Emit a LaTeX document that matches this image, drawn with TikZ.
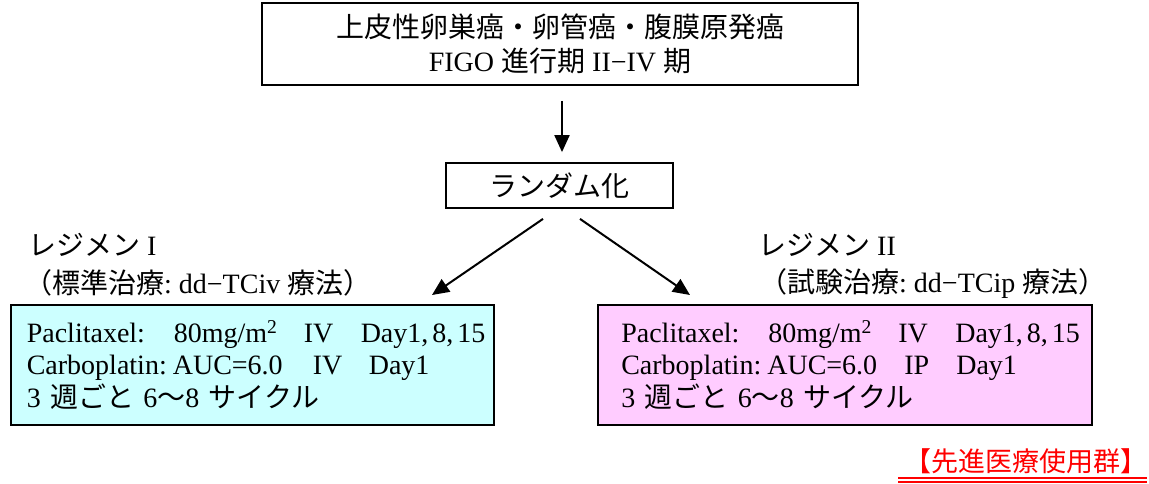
\documentclass[tikz,border=0pt]{standalone}
\usepackage{fontspec}
\setmainfont{Liberation Serif}
\newfontfamily\jp{Noto Sans CJK JP}
\usetikzlibrary{arrows.meta}
\definecolor{cyanfill}{HTML}{CCFFFF}
\definecolor{pinkfill}{HTML}{FFCCFF}
\definecolor{redtext}{HTML}{FF0000}
\frenchspacing
\newcommand{\rowline}[1]{\makebox[447pt][l]{#1}}
\newcommand{\days}{Day1,\hspace{4pt}8,\hspace{4pt}15}
\begin{document}
\begin{tikzpicture}[x=1pt,y=-1pt,
  every node/.style={font=\fontsize{28}{34}\selectfont},
  box/.style={draw, line width=1.8pt, inner sep=0pt},
  arr/.style={line width=2pt, -{Triangle[length=17pt,width=15pt]}},
  regbox/.style={draw, line width=1.6pt, minimum width=483pt, minimum height=120pt, anchor=north west, text width=447pt, align=left, inner xsep=18pt, inner ysep=0pt, font=\fontsize{28}{32.5}\selectfont},
  lbl/.style={anchor=west, inner sep=0pt}]
\useasboundingbox (0,0) rectangle (1149,483);
\fill[white] (0,0) rectangle (1149,483);

\node[box, minimum width=596pt, minimum height=82pt, align=center] (top) at (560,44)
  {{\jp 上皮性卵巣癌・卵管癌・腹膜原発癌}\\FIGO {\jp 進行期} II−IV {\jp 期}};
\node[box, minimum width=227pt, minimum height=45pt] (rand) at (559.5,185.5) {{\jp ランダム化}};

\node[lbl] (lab1) at (28,245) {{\jp レジメン} I};
\node[lbl] (lab1b) at (24,283) {{\jp （標準治療}: dd−TCiv {\jp 療法）}};
\node[lbl] (lab2) at (758,245) {{\jp レジメン} II};
\node[lbl] (lab2b) at (759,283) {{\jp （試験治療}: dd−TCip {\jp 療法）}};

\node[regbox, fill=cyanfill, inner xsep=16pt, text width=451pt] (lbox) at (10,304)
  {\rowline{\makebox[147pt][l]{Paclitaxel:}\makebox[130pt][l]{80mg/m\textsuperscript{2}}\makebox[57pt][l]{IV}\days}\\
   \rowline{\makebox[146pt][l]{Carboplatin:}\makebox[140pt][l]{AUC=6.0}\makebox[56pt][l]{IV}Day1}\\
   \rowline{3 {\jp 週ごと} 6{\jp 〜}8 {\jp サイクル}}};
\node[regbox, fill=pinkfill, minimum width=494pt] (rbox) at (597,304)
  {\rowline{\makebox[147pt][l]{Paclitaxel:}\makebox[130pt][l]{80mg/m\textsuperscript{2}}\makebox[57pt][l]{IV}\days}\\
   \rowline{\makebox[146pt][l]{Carboplatin:}\makebox[137pt][l]{AUC=6.0}\makebox[52pt][l]{IP}Day1}\\
   \rowline{3 {\jp 週ごと} 6{\jp 〜}8 {\jp サイクル}}};

\coordinate (lend) at (432,295);
\coordinate (rend) at (690,295);
\draw[arr, shorten <=15pt, shorten >=10pt] ([xshift=2pt]top.south) -- ([xshift=2pt]top.south |- rand.north);
\draw[arr] ([xshift=-16.5pt,yshift=-10pt]rand.south) -- (lend);
\draw[arr] ([xshift=20.5pt,yshift=-10pt]rand.south) -- (rend);

\node[text=redtext, inner sep=0pt, font=\fontsize{27}{30}\selectfont] (adv) at (1026,461) {{\jp 【先進医療使用群】}};
\draw[redtext, line width=2pt] (898,478) -- (1147,478);
\draw[redtext, line width=1.5pt] (898,482.2) -- (1147,482.2);
\end{tikzpicture}
\end{document}
